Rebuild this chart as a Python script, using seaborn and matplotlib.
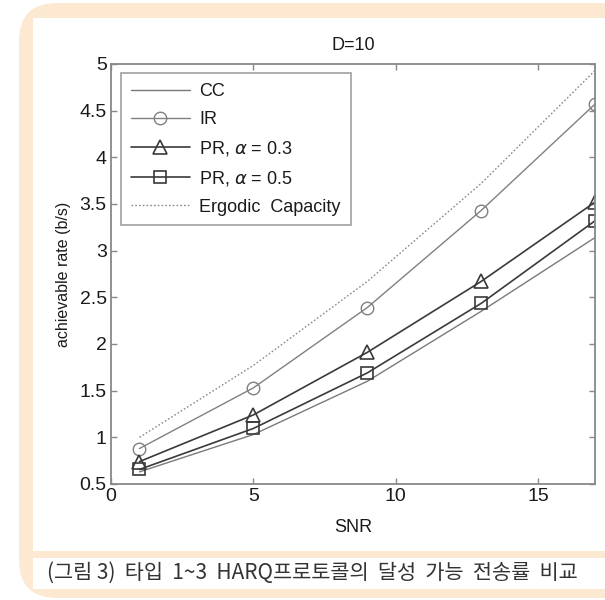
import numpy as np
import pandas as pd
import matplotlib
matplotlib.use("Agg")
import matplotlib.pyplot as plt
import seaborn as sns
from matplotlib.patches import FancyBboxPatch, Rectangle
from matplotlib.transforms import IdentityTransform

# ---- data ----
snr = [1, 5, 9, 13, 17]
cc = [0.63, 1.03, 1.60, 2.35, 3.14]
ir = [0.88, 1.53, 2.39, 3.43, 4.57]
pr03 = [0.74, 1.24, 1.91, 2.67, 3.52]
pr05 = [0.656, 1.095, 1.69, 2.435, 3.32]
ergodic = [1.0, 1.77, 2.67, 3.72, 4.93]
labels = ["CC", "IR", r"PR, $\alpha$ = 0.3", r"PR, $\alpha$ = 0.5", "Ergodic  Capacity"]
xticks = [0, 5, 10, 15]
yticks = [0.5, 1, 1.5, 2, 2.5, 3, 3.5, 4, 4.5, 5]
ytick_labels = ["0.5", "1", "1.5", "2", "2.5", "3", "3.5", "4", "4.5", "5"]
title = "D=10"
caption = "(그림 3)  타입  1~3  HARQ프로토콜의  달성  가능  전송률  비교"

sns.set_style("white")
plt.rcParams['font.family'] = ['Liberation Sans', 'DejaVu Sans']
plt.rcParams['mathtext.fontset'] = 'dejavusans'

W, H = 605, 600
fig = plt.figure(figsize=(W / 100, H / 100), dpi=100)
fig.patch.set_facecolor("white")

beige = "#FDE8D2"
def px(x, y):
    return x, H - y

# outer beige rounded frame
x0, y0 = px(19, 598)
fig.patches.append(FancyBboxPatch((x0, y0), 700, 595, boxstyle="round,pad=0,rounding_size=38",
                                  transform=IdentityTransform(), facecolor=beige, edgecolor="none", zorder=-10))
# inner white plot panel
x0, y0 = px(33, 551)
fig.patches.append(Rectangle((x0, y0), 700, 551 - 18, transform=IdentityTransform(),
                             facecolor="white", edgecolor="none", zorder=-9))
# caption band
x0, y0 = px(33, 589)
fig.patches.append(Rectangle((x0, y0), 700, 589 - 558, transform=IdentityTransform(),
                             facecolor="white", edgecolor="none", zorder=-9))

ax = fig.add_axes([111 / W, (H - 484) / H, (595 - 111) / W, (484 - 64) / H])
ax.set_facecolor("white")
ax.set_zorder(1)

df = pd.DataFrame({"SNR": snr, "CC": cc, "IR": ir, "PR03": pr03, "PR05": pr05, "Erg": ergodic})

sns.lineplot(data=df, x="SNR", y="CC", ax=ax, color="#7a7a7a", lw=1.0, label=labels[0])
sns.lineplot(data=df, x="SNR", y="IR", ax=ax, color="#808080", lw=1.0, marker="o", markersize=9,
             markerfacecolor="none", markeredgecolor="#808080", markeredgewidth=1.0, label=labels[1])
sns.lineplot(data=df, x="SNR", y="PR03", ax=ax, color="#3a3a3a", lw=1.2, marker="^", markersize=9.5,
             markerfacecolor="none", markeredgecolor="#3a3a3a", markeredgewidth=1.2, label=labels[2])
sns.lineplot(data=df, x="SNR", y="PR05", ax=ax, color="#3a3a3a", lw=1.2, marker="s", markersize=9,
             markerfacecolor="none", markeredgecolor="#3a3a3a", markeredgewidth=1.2, label=labels[3])
sns.lineplot(data=df, x="SNR", y="Erg", ax=ax, color="#8a8a8a", lw=1.0, linestyle=(0, (1.2, 1.5)),
             label=labels[4])

ax.set_xlim(0, 17)
ax.set_ylim(0.5, 5)
ax.set_xticks(xticks)
ax.set_xticklabels([str(t) for t in xticks])
ax.set_yticks(yticks)
ax.set_yticklabels(ytick_labels)
ax.tick_params(direction="in", length=4.5, width=1, color="#888888", labelsize=14,
               labelcolor="#1a1a1a", top=True, right=True, bottom=True, left=True, pad=3)
for s in ax.spines.values():
    s.set_color("#888888")
    s.set_linewidth(1.3)
    s.set_visible(True)

ax.set_title(title, fontsize=13, color="#1a1a1a", pad=10)
ax.set_xlabel("SNR", fontsize=13, color="#1a1a1a", labelpad=10)
ax.set_ylabel("achievable rate (b/s)", fontsize=11.5, color="#1a1a1a", labelpad=6)

leg = ax.legend(loc="upper left", bbox_to_anchor=(0.02, 0.978), fontsize=13, frameon=True,
                fancybox=False, edgecolor="#888888", handlelength=3.3, handletextpad=0.5,
                labelspacing=0.6, borderpad=0.55, borderaxespad=0)
leg.get_frame().set_linewidth(1.2)
for t in leg.get_texts():
    t.set_color("#1a1a1a")

fig.text(47 / W, 1 - 573 / H, caption, fontsize=15, color="#333333", va="center", ha="left",
         family=['Noto Sans CJK KR', 'DejaVu Sans'])

fig.savefig("out.png", dpi=100)
